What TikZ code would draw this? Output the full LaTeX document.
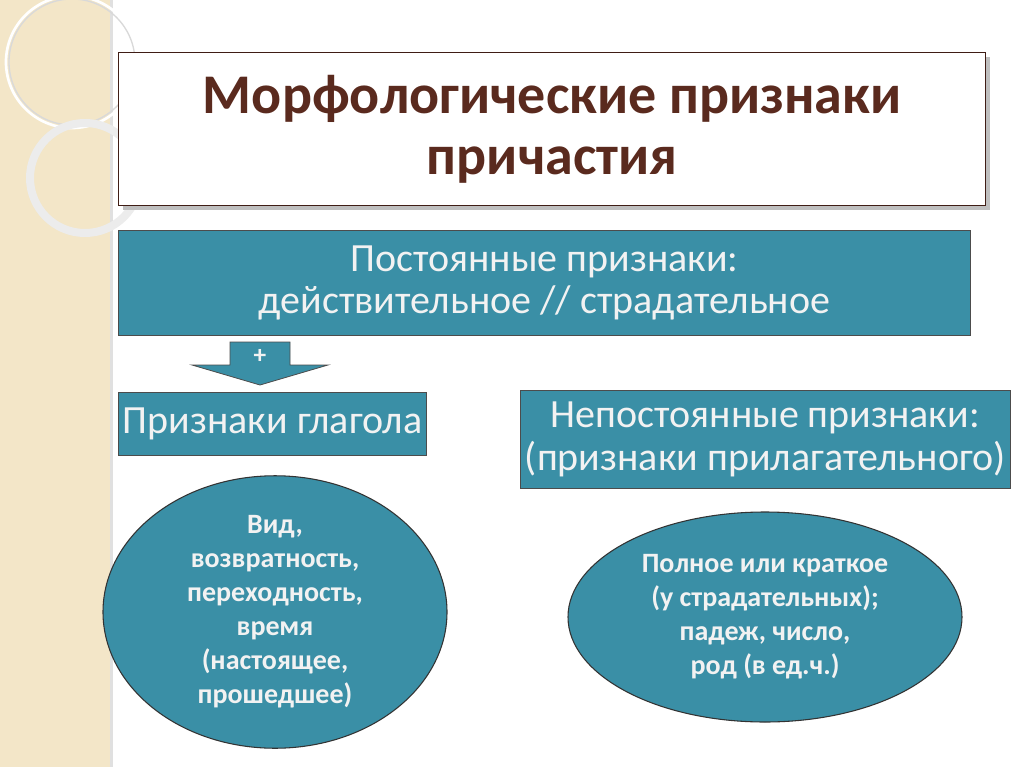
\documentclass[tikz,border=0pt]{standalone}
\usepackage{fontspec}
\setmainfont{Carlito}
\usetikzlibrary{shapes.geometric}
\definecolor{teal1}{HTML}{3A8FA6}
\definecolor{brn}{HTML}{5A2A1E}
\definecolor{beige}{HTML}{F3E6C8}
\definecolor{txt}{HTML}{F2F2F2}
\begin{document}
\begin{tikzpicture}[x=0.75pt,y=-0.75pt,
  tbox/.style={draw=black!70,line width=0.8pt,fill=teal1,text=txt,align=center,font=\fontsize{30}{32}\selectfont},
  ell/.style={ellipse,draw=black!80,line width=0.8pt,fill=teal1,text=txt,align=center,font=\fontsize{21}{25.5}\selectfont\bfseries}]
\useasboundingbox (0,0) rectangle (1024,767);
\fill[white] (0,0) rectangle (1024,767);
\fill[beige] (0,0) rectangle (110,767);
\fill[black!12] (110,0) rectangle (113,767);
\draw[white,line width=2pt] (72,62) circle (66);
\draw[black!15,line width=1pt] (72,62) circle (63);
\draw[white!85!gray,line width=6pt] (85,178) circle (55);
% title
\fill[black!25] (123,57) rectangle (990,210);
\node[draw=brn!70!black,line width=1pt,fill=white,minimum width=867*0.75pt,minimum height=153*0.75pt,inner sep=0,anchor=north west] (title) at (118,52) {};
\node[text=brn,font=\fontsize{42}{46}\selectfont\bfseries,align=center] (tt) at (title.center) {Морфологические признаки\\причастия};
\node[tbox,minimum width=852*0.75pt,minimum height=105*0.75pt,anchor=north west] (b1) at (118,230) {Постоянные признаки:\\действительное // страдательное};
\draw[draw=black!70,line width=0.6pt,fill=teal1] (230,342) -- (290,342) -- (290,365) -- (328,365) -- (260,385) -- (192,365) -- (230,365) -- cycle;
\node[text=txt,font=\bfseries\fontsize{19}{19}\selectfont] (plus) at (260,356) {+};
\node[tbox,minimum width=304*0.75pt,minimum height=63*0.75pt,anchor=north west] (b2) at (118,392) {Признаки глагола};
\node[tbox,minimum width=450*0.75pt,minimum height=98*0.75pt,anchor=north west] (b3) at (520,390) {Непостоянные признаки:\\(признаки прилагательного)};
\node[ell,minimum width=344*0.75pt,minimum height=230*0.75pt,inner sep=0] (e1) at (275,612) {Вид,\\возвратность,\\переходность,\\время\\(настоящее,\\прошедшее)};
\node[ell,minimum width=394*0.75pt,minimum height=210*0.75pt,inner sep=0] (e2) at (765,617) {Полное или краткое\\(у страдательных);\\падеж, число,\\род (в ед.ч.)};
\end{tikzpicture}
\end{document}
